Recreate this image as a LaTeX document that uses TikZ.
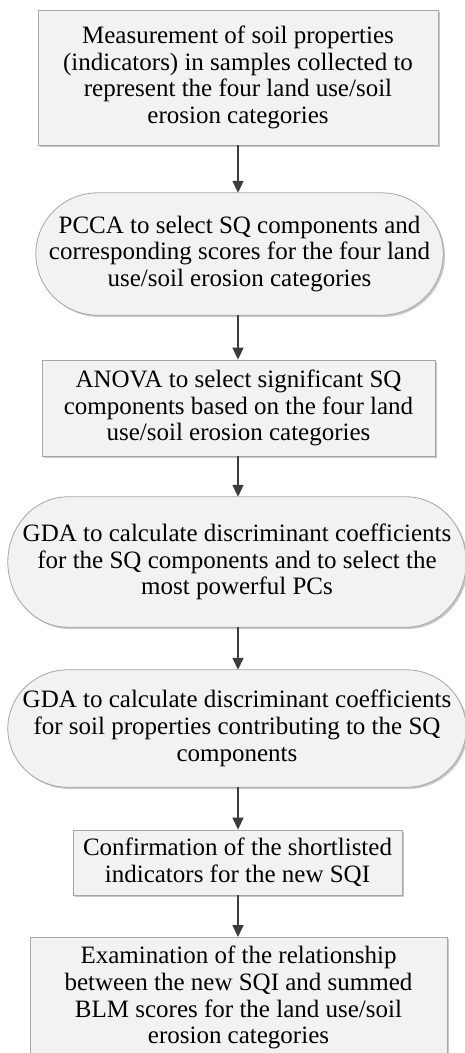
\documentclass[tikz,border=0pt]{standalone}
\usepackage{fontspec}
\setmainfont{Liberation Serif}
\usetikzlibrary{arrows.meta,backgrounds,shadows,calc}
\definecolor{boxfill}{HTML}{F2F2F2}
\definecolor{boxline}{HTML}{A6A6A6}
\definecolor{arrowcol}{HTML}{3C3C3C}
\definecolor{shadowcol}{HTML}{C8C8C8}
\tikzset{
  txt/.style={align=center, font=\fontsize{25}{26.7}\selectfont, inner sep=0pt, text=black},
  rectbox/.style={txt, draw=boxline, fill=boxfill, line width=0.8pt,
     drop shadow={shadow xshift=1.8pt, shadow yshift=-1.8pt, fill=shadowcol, opacity=1}},
  stadbox/.style={txt},
  stadline/.style={draw=boxline, fill=boxfill, line width=0.8pt,
     drop shadow={shadow xshift=1.8pt, shadow yshift=-1.8pt, fill=shadowcol, opacity=1}},
  flow/.style={draw=arrowcol, line width=1.5pt, -{Triangle[length=12pt,width=11pt]}},
}
\newcommand{\stadium}[2]{% node name, horizontal radius
  \begin{scope}[on background layer]
  \path let \p1=(#1.north west), \p2=(#1.south east), \n1={(\y1-\y2)/2} in
    [stadline] (\x1+#2pt,\y1) -- (\x2-#2pt,\y1)
    arc[start angle=90, end angle=-90, x radius=#2pt, y radius=\n1]
    -- (\x1+#2pt,\y2)
    arc[start angle=270, end angle=90, x radius=#2pt, y radius=\n1] -- cycle;
  \end{scope}}
\begin{document}
\begin{tikzpicture}[x=1pt,y=1pt]
\useasboundingbox (0,0) rectangle (465,-1053);
\node[rectbox, minimum width=400pt, minimum height=135pt] (b1) at (238,-77.5)
  {Measurement of soil properties\\(indicators) in samples collected to\\represent the four land use/soil\\erosion categories};
\node[stadbox, minimum width=407pt, minimum height=122pt] (b2) at (239.5,-254)
  {PCCA to select SQ components and\\corresponding scores for the four land\\use/soil erosion categories};
\stadium{b2}{62}
\node[rectbox, minimum width=393pt, minimum height=96pt] (b3) at (238.5,-408)
  {ANOVA to select significant SQ\\components based on the four land\\use/soil erosion categories};
\node[stadbox, minimum width=458pt, minimum height=130pt] (b4) at (237,-562)
  {GDA to calculate discriminant coefficients\\for the SQ components and to select the\\most powerful PCs};
\stadium{b4}{60}
\node[stadbox, minimum width=458pt, minimum height=117pt] (b5) at (237,-728.5)
  {GDA to calculate discriminant coefficients\\for soil properties contributing to the SQ\\components};
\stadium{b5}{60}
\node[rectbox, minimum width=329pt, minimum height=65pt] (b6) at (237.5,-862.5)
  {Confirmation of the shortlisted\\indicators for the new SQI};
\node[rectbox, minimum width=417pt, minimum height=140pt, anchor=north] (b7) at (238.5,-937)
  {Examination of the relationship\\between the new SQI and summed\\BLM scores for the land use/soil\\erosion categories\\[-2pt]};
\draw[flow] (b1.south -| 238,0) -- (b2.north -| 238,0);
\draw[flow] (b2.south -| 238,0) -- (b3.north -| 238,0);
\draw[flow] (b3.south -| 238,0) -- (b4.north -| 238,0);
\draw[flow] (b4.south -| 238,0) -- (b5.north -| 238,0);
\draw[flow] (b5.south -| 238,0) -- (b6.north -| 238,0);
\draw[flow] (b6.south -| 238,0) -- (b7.north -| 238,0);
\end{tikzpicture}
\end{document}
